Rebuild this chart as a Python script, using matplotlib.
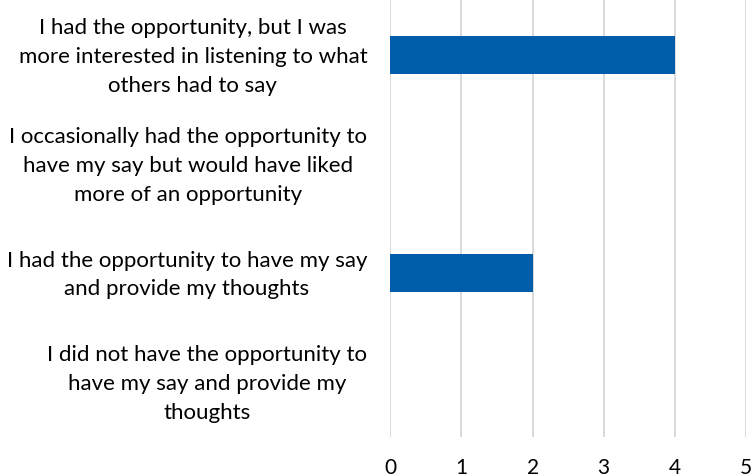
import matplotlib
matplotlib.use("Agg")
import matplotlib.pyplot as plt
from matplotlib.transforms import ScaledTranslation, blended_transform_factory

categories = [
    "I had the opportunity, but I was\nmore interested in listening to what\nothers had to say",
    "I occasionally had the opportunity to\nhave my say but would have liked\nmore of an opportunity",
    "I had the opportunity to have my say\nand provide my thoughts",
    "I did not have the opportunity to\nhave my say and provide my\nthoughts",
]
values = [4, 0, 2, 0]
x_ticks = [0, 1, 2, 3, 4, 5]

plt.rcParams["font.family"] = ["Lato", "DejaVu Sans"]

fig = plt.figure(figsize=(7.53, 4.77), dpi=100)
ax = fig.add_axes([0.5183, 0.0828, 0.4724, 0.9141])

pos = list(range(len(categories)))
ax.barh(pos, values, height=0.345, color="#005DAA", zorder=3)
ax.set_ylim(len(categories) - 0.5, -0.5)
ax.set_xlim(0, 5)
ax.set_xticks(x_ticks)
ax.set_xticklabels([str(t) for t in x_ticks])
ax.set_yticks(pos)
ax.set_yticklabels([])

# category labels: right-aligned block, centred lines, just left of the plot
label_tf = (blended_transform_factory(ax.transAxes, ax.transData)
            + ScaledTranslation(-23 / 100, -1 / 100, fig.dpi_scale_trans))
for p, text in zip(pos, categories):
    ax.text(0, p, text, transform=label_tf, ha="right", va="center",
            multialignment="center", linespacing=1.55, fontsize=16,
            color="#000000")

for s in ax.spines.values():
    s.set_visible(False)
ax.grid(axis="x", color="#D9D9D9", linewidth=1.4, zorder=0)
ax.tick_params(axis="both", length=0, colors="#000000")
ax.tick_params(axis="x", pad=15, labelsize=15)

fig.savefig("out.png", dpi=100)
